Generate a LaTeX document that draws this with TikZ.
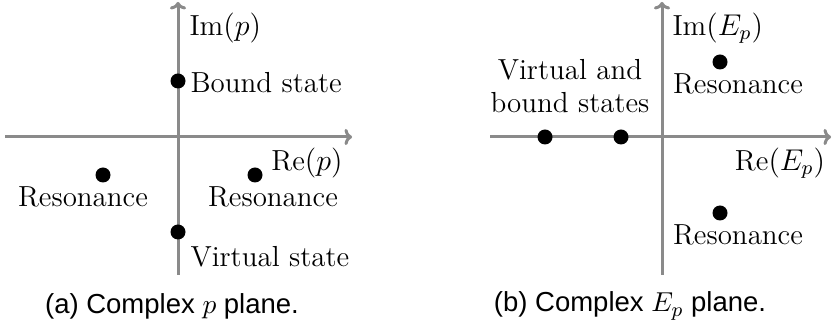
\documentclass[tikz,border=0pt]{standalone}
\usepackage{fontspec}
\usetikzlibrary{arrows.meta}
\newfontfamily\capfont{Liberation Sans}
\definecolor{axisgray}{HTML}{8A8A8A}

\begin{document}
\begin{tikzpicture}[x=0.4pt,y=0.4pt,axis/.style={axisgray,line width=1.2pt,-{To[length=3pt,width=6.5pt]}},dot/.style={circle,fill=black,inner sep=0pt,minimum size=6pt},lbl/.style={font=\fontsize{11.6}{13.5}\selectfont,inner sep=0pt,align=center},subcap/.style={font=\capfont\fontsize{11}{13}\selectfont,inner sep=0pt}]
 \useasboundingbox (0,0) rectangle (833,326);
 \coordinate (pw) at (5,189); \coordinate (pe) at (352,189);
 \coordinate (ps) at (178,51); \coordinate (pn) at (178,324);
 \draw[axis] (pw)--(pe); \draw[axis] (ps)--(pn);
 \node[dot] (pbound) at (178,245) {}; \node[lbl,anchor=west] (pboundl) at (190,243) {Bound state};
 \node[dot] (pvirt) at (178,94) {}; \node[lbl,anchor=west] (pvirtl) at (190,69) {Virtual state};
 \node[dot] (pres1) at (103,151) {}; \node[lbl] (pres1l) at (83,129) {Resonance};
 \node[dot] (pres2) at (255,151) {}; \node[lbl] (pres2l) at (273,129) {Resonance};
 \node[lbl,anchor=west] (pim) at (189,298) {$\mathrm{Im}(p)$};
 \node[lbl] (pre) at (307,163) {$\mathrm{Re}(p)$};
 \node[subcap] (pcap) at (172,20) {(a) Complex $p$ plane.};
 \coordinate (ew) at (490,189); \coordinate (ee) at (831,189);
 \coordinate (es) at (662,51); \coordinate (en) at (662,324);
 \draw[axis] (ew)--(ee); \draw[axis] (es)--(en);
 \node[dot] (evb1) at (545,189) {}; \node[dot] (evb2) at (621,189) {};
 \node[lbl] (evbl) at (570,240) {Virtual and\\bound states};
 \node[dot] (eres1) at (720,264) {}; \node[lbl] (eres1l) at (738,242) {Resonance};
 \node[dot] (eres2) at (720,113) {}; \node[lbl] (eres2l) at (738,91) {Resonance};
 \node[lbl,anchor=west] (eim) at (672,298) {$\mathrm{Im}(E_p)$};
 \node[lbl] (ere) at (780,163) {$\mathrm{Re}(E_p)$};
 \node[subcap] (ecap) at (630,20) {(b) Complex $E_p$ plane.};
\end{tikzpicture}
\end{document}
